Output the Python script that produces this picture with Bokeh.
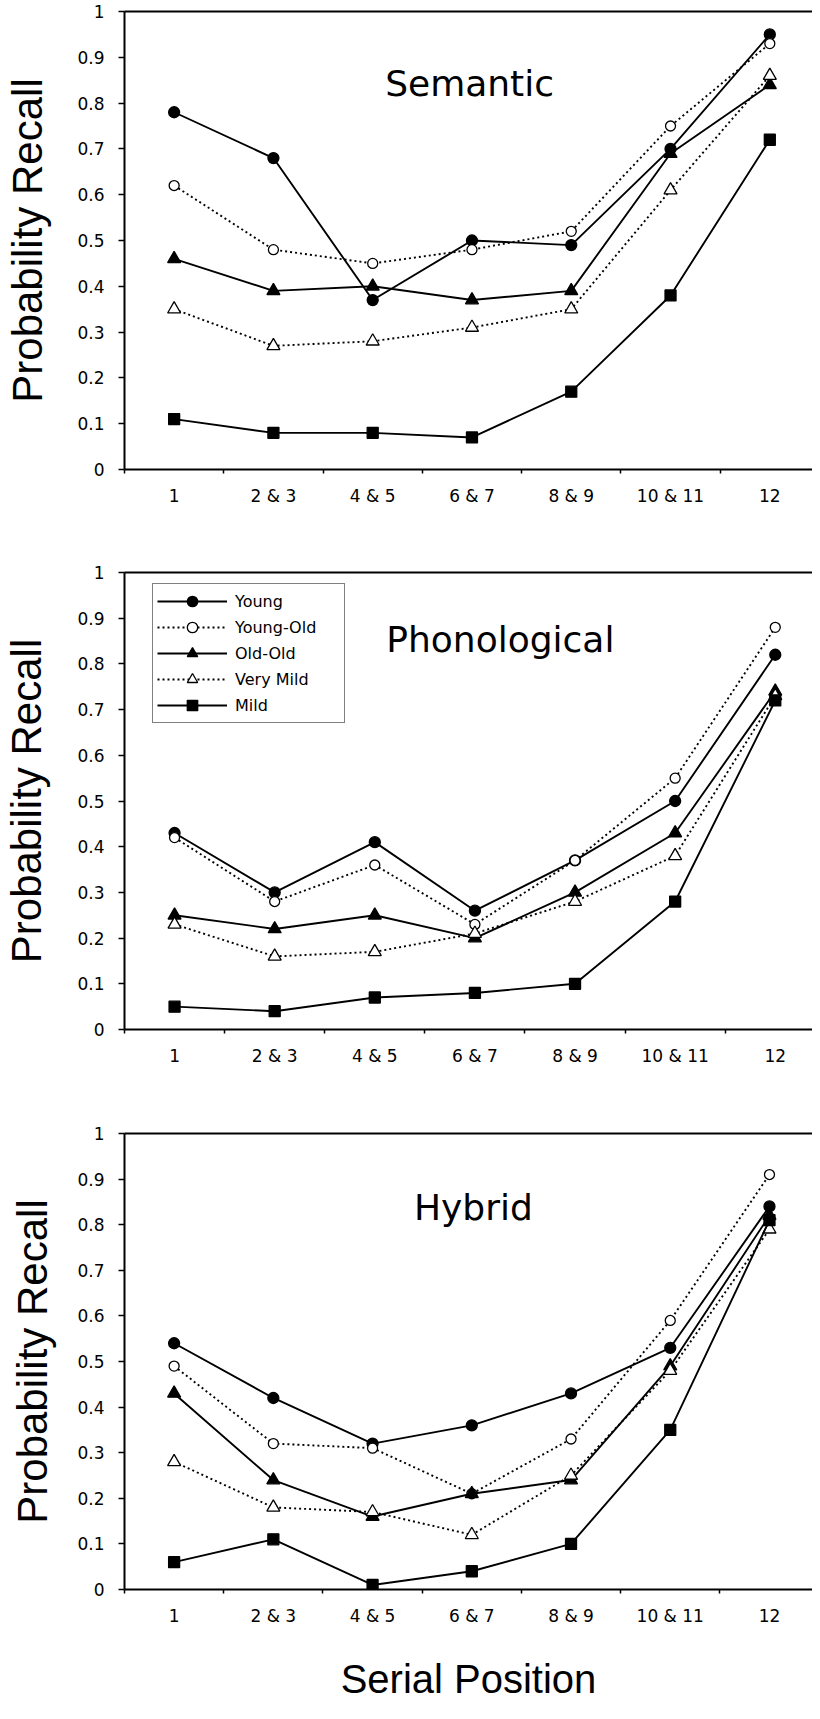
from bokeh.plotting import figure
from bokeh.models import Range1d, FixedTicker, LinearAxis, Label, Legend, LegendItem
from bokeh.layouts import column
from bokeh.embed import file_html
from bokeh.resources import INLINE

# ---------------- data ----------------
positions = ["1", "2 & 3", "4 & 5", "6 & 7", "8 & 9", "10 & 11", "12"]
groups = ["Young", "Young-Old", "Old-Old", "Very Mild", "Mild"]
y_ticks = [0.0, 0.1, 0.2, 0.3, 0.4, 0.5, 0.6, 0.7, 0.8, 0.9, 1.0]
y_tick_labels = ["0", "0.1", "0.2", "0.3", "0.4", "0.5", "0.6", "0.7", "0.8", "0.9", "1"]

semantic_young = [0.78, 0.68, 0.37, 0.50, 0.49, 0.70, 0.95]
semantic_young_old = [0.62, 0.48, 0.45, 0.48, 0.52, 0.75, 0.93]
semantic_old_old = [0.46, 0.39, 0.40, 0.37, 0.39, 0.69, 0.84]
semantic_very_mild = [0.35, 0.27, 0.28, 0.31, 0.35, 0.61, 0.86]
semantic_mild = [0.11, 0.08, 0.08, 0.07, 0.17, 0.38, 0.72]

phonological_young = [0.43, 0.30, 0.41, 0.26, 0.37, 0.50, 0.82]
phonological_young_old = [0.42, 0.28, 0.36, 0.23, 0.37, 0.55, 0.88]
phonological_old_old = [0.25, 0.22, 0.25, 0.20, 0.30, 0.43, 0.74]
phonological_very_mild = [0.23, 0.16, 0.17, 0.21, 0.28, 0.38, 0.73]
phonological_mild = [0.05, 0.04, 0.07, 0.08, 0.10, 0.28, 0.72]

hybrid_young = [0.54, 0.42, 0.32, 0.36, 0.43, 0.53, 0.84]
hybrid_young_old = [0.49, 0.32, 0.31, 0.21, 0.33, 0.59, 0.91]
hybrid_old_old = [0.43, 0.24, 0.16, 0.21, 0.24, 0.49, 0.82]
hybrid_very_mild = [0.28, 0.18, 0.17, 0.12, 0.25, 0.48, 0.79]
hybrid_mild = [0.06, 0.11, 0.01, 0.04, 0.10, 0.35, 0.81]

semantic = [semantic_young, semantic_young_old, semantic_old_old, semantic_very_mild, semantic_mild]
phonological = [phonological_young, phonological_young_old, phonological_old_old,
                phonological_very_mild, phonological_mild]
hybrid = [hybrid_young, hybrid_young_old, hybrid_old_old, hybrid_very_mild, hybrid_mild]

# ---------------- styles ----------------
STYLES = {
    "Young": dict(marker="circle", fill="black", dash="solid", size=11),
    "Young-Old": dict(marker="circle", fill="white", dash="2 3", size=10),
    "Old-Old": dict(marker="triangle", fill="black", dash="solid", size=13),
    "Very Mild": dict(marker="triangle", fill="white", dash="2 3", size=13),
    "Mild": dict(marker="square", fill="black", dash="solid", size=11),
}

TICK_FONT = "DejaVu Sans"
BIG_FONT = "Liberation Sans"
PAGE_RIGHT = 820


def make_panel(title, series, frame_left, ppc, border_top, frame_h, border_bottom,
               title_xy, label_standoff, legend=False, xlabel=False):
    width = PAGE_RIGHT - 8
    height = border_top + frame_h + border_bottom
    x_end = -0.5 + (PAGE_RIGHT - frame_left) / ppc
    p = figure(width=width, height=height, output_backend="svg", toolbar_location=None,
               x_range=Range1d(-0.5, x_end), y_range=Range1d(0, 1),
               min_border_left=frame_left - 8, min_border_right=0,
               min_border_top=border_top, min_border_bottom=border_bottom)
    p.outline_line_color = None
    p.grid.visible = False
    p.background_fill_color = "white"
    p.border_fill_color = "white"

    xa = p.xaxis[0]
    xa.ticker = FixedTicker(ticks=list(range(len(positions))),
                            minor_ticks=[i - 0.5 for i in range(len(positions) + 1)])
    xa.major_label_overrides = {i: lab for i, lab in enumerate(positions)}
    xa.major_tick_out = 0
    xa.major_tick_in = 0
    xa.minor_tick_out = 4
    xa.minor_tick_in = 0
    xa.minor_tick_line_width = 1.5
    xa.minor_tick_line_color = "black"
    xa.axis_line_width = 2
    xa.axis_line_color = "black"
    xa.major_label_text_font = TICK_FONT
    xa.major_label_text_font_size = "17px"
    xa.major_label_text_color = "black"
    xa.major_label_standoff = 12
    if xlabel:
        xa.axis_label = "Serial Position"
        xa.axis_label_text_font = BIG_FONT
        xa.axis_label_text_font_size = "40px"
        xa.axis_label_text_font_style = "normal"
        xa.axis_label_text_color = "black"
        xa.axis_label_standoff = 28

    ya = p.yaxis[0]
    ya.ticker = FixedTicker(ticks=y_ticks)
    ya.major_label_overrides = {v: s for v, s in zip(y_ticks, y_tick_labels)}
    ya.major_tick_out = 6
    ya.major_tick_in = 0
    ya.major_tick_line_width = 1.5
    ya.minor_tick_line_color = None
    ya.axis_line_width = 2
    ya.axis_line_color = "black"
    ya.major_label_text_font = TICK_FONT
    ya.major_label_text_font_size = "17px"
    ya.major_label_text_color = "black"
    ya.major_label_standoff = 14
    ya.axis_label = "Probability Recall"
    ya.axis_label_text_font = BIG_FONT
    ya.axis_label_text_font_size = "42px"
    ya.axis_label_text_font_style = "normal"
    ya.axis_label_text_color = "black"
    ya.axis_label_standoff = label_standoff

    top = LinearAxis(ticker=FixedTicker(ticks=[]), axis_line_width=2, axis_line_color="black",
                     major_tick_out=0, major_tick_in=0, major_label_standoff=0,
                     major_tick_line_color=None, minor_tick_line_color=None,
                     major_label_text_font_size="0px")
    p.add_layout(top, "above")

    xs = list(range(len(positions)))
    items = []
    for name, vals in zip(groups, series):
        st = STYLES[name]
        lr = p.line(xs, vals, line_color="black", line_width=1.9, line_dash=st["dash"])
        sr = p.scatter(xs, vals, marker=st["marker"], size=st["size"], fill_color=st["fill"],
                       line_color="black", line_width=1.3)
        items.append(LegendItem(label=name, renderers=[lr, sr]))

    p.add_layout(Label(x=title_xy[0], y=title_xy[1], text=title, text_align="center",
                       text_baseline="alphabetic", text_font=TICK_FONT,
                       text_font_size="36px", text_color="black"))

    if legend:
        lg = Legend(items=items, location=(28, frame_h - 13 - 138),
                    padding=4, spacing=0, glyph_width=70, glyph_height=26,
                    label_height=26, label_width=105, label_standoff=8, margin=0,
                    label_text_font=TICK_FONT, label_text_font_size="16px",
                    label_text_color="black", border_line_color="black",
                    border_line_width=1.5, background_fill_color="white",
                    background_fill_alpha=1.0)
        p.add_layout(lg)
    return p


p1 = make_panel("Semantic", semantic, frame_left=127, ppc=100.0, border_top=11, frame_h=458,
                border_bottom=52, title_xy=(2.976, 0.8434), label_standoff=23)
p2 = make_panel("Phonological", phonological, frame_left=128, ppc=100.7, border_top=51,
                frame_h=457, border_bottom=52, title_xy=(3.254, 0.854), label_standoff=24,
                legend=True)
p3 = make_panel("Hybrid", hybrid, frame_left=122, ppc=100.67, border_top=52, frame_h=456,
                border_bottom=114, title_xy=(3.016, 0.838), label_standoff=18, xlabel=True)

layout = column(p1, p2, p3, spacing=0)
open("out.html", "w").write(file_html(layout, INLINE))
